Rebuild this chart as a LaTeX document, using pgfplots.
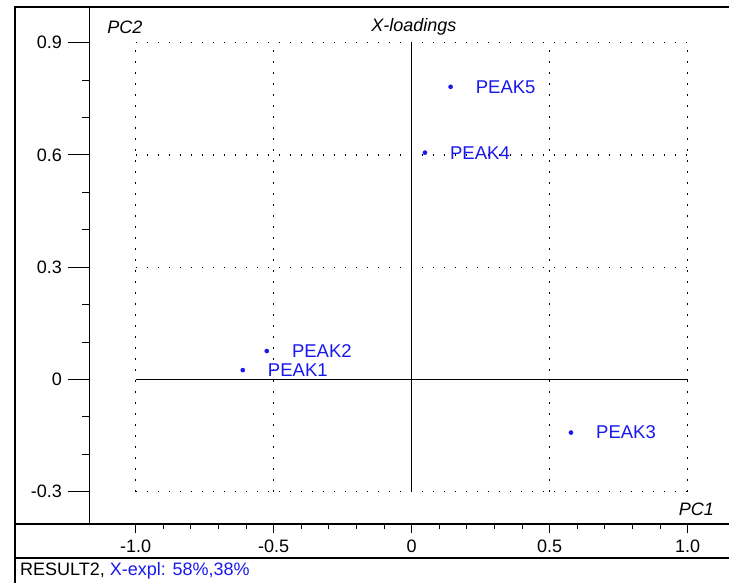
\documentclass[border=0pt]{standalone}
\usepackage{fontspec}
\setmainfont{Liberation Sans}
\usepackage{pgfplots}
\pgfplotsset{compat=1.18}
\definecolor{peakblue}{RGB}{25,25,235}
\pgfplotstableread{
x y label
-0.612 0.025 PEAK1
-0.525 0.076 PEAK2
0.577 -0.142 PEAK3
0.048 0.606 PEAK4
0.141 0.782 PEAK5
}\peaks
\begin{document}
\fontsize{18bp}{21bp}\selectfont
\begin{tikzpicture}
\useasboundingbox (0bp,0bp) rectangle (729bp,583bp);
\begin{axis}[
  at={(89bp,59bp)}, anchor=south west,
  scale only axis, width=640bp, height=518bp,
  xmin=-1.1692, xmax=1.1496, ymin=-0.3863, ymax=0.998,
  axis x line*=bottom, axis y line*=left,
  axis line style={-},
  x axis line style={line width=1.6bp},
  y axis line style={line width=1bp},
  clip=false,
  xtick={-1,-0.5,0,0.5,1}, xticklabels={-1.0,-0.5,0,0.5,1.0},
  ytick={-0.3,0,0.3,0.6,0.9}, yticklabels={-0.3,0,0.3,0.6,0.9},
  tick align=outside,
  major tick length=9bp, minor tick length=5bp,
  tick style={black, line width=1bp},
  every tick label/.append style={font=\fontsize{18bp}{21bp}\selectfont},
  xticklabel style={yshift=-1bp},
  yticklabel style={xshift=-12bp},
]
\pgfplotsinvokeforeach{-1,-0.5,0.5,1}{
  \addplot[black, line width=1.3bp, dash pattern=on 1.6bp off 9.4bp] coordinates {(#1,-0.3) (#1,0.9)};
}
\pgfplotsinvokeforeach{-0.3,0.3,0.6,0.9}{
  \addplot[black, line width=1.3bp, dash pattern=on 1.6bp off 9.4bp] coordinates {(-1,#1) (1,#1)};
}
\addplot[black, line width=1bp] coordinates {(0,-0.3) (0,0.9)};
\addplot[black, line width=1bp] coordinates {(-1,0) (1,0)};
\addplot[only marks, mark=*, mark size=2.1bp, color=peakblue,
  nodes near coords, point meta=explicit symbolic,
  every node near coord/.style={anchor=west, xshift=19bp, text=peakblue, font=\fontsize{18.5bp}{21bp}\selectfont}]
  table[x=x, y=y, meta=label]{\peaks};
\node[font=\itshape\fontsize{18bp}{21bp}\selectfont] at (rel axis cs:0.05625,0.9595) {PC2};
\node[font=\itshape\fontsize{18bp}{21bp}\selectfont] at (rel axis cs:0.5078,0.9595) {X-loadings};
\node[font=\itshape\fontsize{18bp}{21bp}\selectfont] at (rel axis cs:0.949,0.029) {PC1};
\end{axis}
% axis ticks (y: major every 0.3, minor every 0.1; x: major every 0.5, minor every 0.1)
\foreach \yy in {91.29,203.54,315.80,428.05,540.30}
  \draw[line width=1bp] (89bp,\yy bp) -- (68bp,\yy bp);
\foreach \yy in {128.71,166.13,240.96,278.38,353.21,390.63,465.46,502.88}
  \draw[line width=1bp] (89bp,\yy bp) -- (82bp,\yy bp);
\foreach \xx in {135.68,273.68,411.68,549.68,687.68}
  \draw[line width=1bp] (\xx bp,59bp) -- (\xx bp,50bp);
\foreach \xx in {163.28,190.88,218.48,246.08,301.28,328.88,356.48,384.08,439.28,466.88,494.48,522.08,577.28,604.88,632.48,660.08}
  \draw[line width=1bp] (\xx bp,59bp) -- (\xx bp,54bp);
\draw[line width=2bp] (15bp,0bp) -- (15bp,576bp) -- (729bp,576bp);
\draw[line width=1.6bp] (15bp,59bp) -- (89bp,59bp);
\draw[line width=1.6bp] (15bp,25bp) -- (729bp,25bp);
\node[anchor=west, inner sep=0pt] at (20bp,12bp) {RESULT2, \textcolor{peakblue}{X-expl: 58\%,38\%}};
\end{tikzpicture}
\end{document}
